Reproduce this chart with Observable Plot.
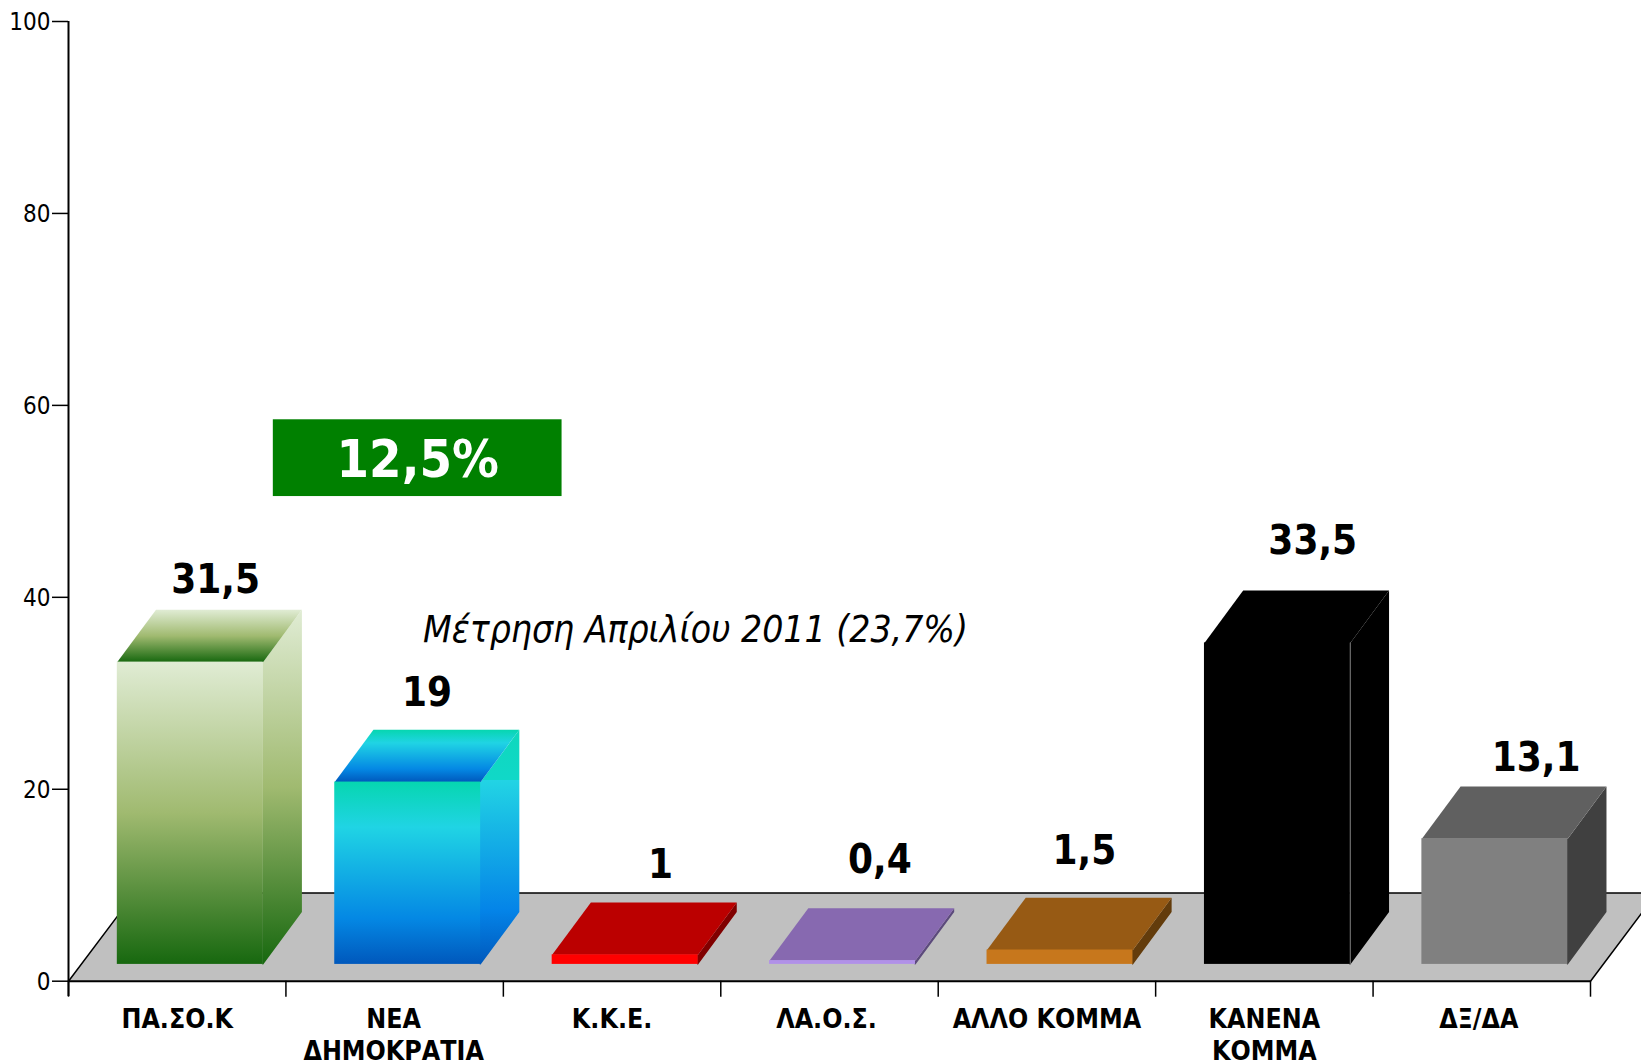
<!DOCTYPE html>
<html><head><meta charset="utf-8">
<script src="https://cdn.jsdelivr.net/npm/d3@7"></script>
<script src="https://cdn.jsdelivr.net/npm/@observablehq/plot@0.6"></script>
<style>html,body{margin:0;padding:0;background:#fff;overflow:hidden}</style>
</head><body><div id="chart"></div>
<script>
const categories = ["ΠΑ.ΣΟ.Κ","ΝΕΑ\nΔΗΜΟΚΡΑΤΙΑ","Κ.Κ.Ε.","ΛΑ.Ο.Σ.","ΑΛΛΟ ΚΟΜΜΑ","ΚΑΝΕΝΑ\nΚΟΜΜΑ","ΔΞ/ΔΑ"];
const values = [31.5,19,1,0.4,1.5,33.5,13.1];
const valueLabels = ["31,5","19","1","0,4","1,5","33,5","13,1"];
const frontColors = ["url(#g0)","url(#g1)","#ff0000","#b191e8","#c7771c","#000000","#808080"];
const topColors   = ["url(#g0)","url(#g1)","#bb0000","#8769b0","#975a14","#000000","#606060"];
const sideColors  = ["url(#g0)","url(#g1s)","#800000","#5c4a7c","#633c0c","#000000","#404040"];
const edgeColors  = ["none","none","none","none","none","#777777","none"];
const labelDx = [6,0,16,18,5,16,22];
const labelDy = [-30,-37,-37,-48,-47,-49,-28];
const yTicks = [0,20,40,60,80,100];
const xTicks = [0,1,2,3,4,5,6,7];
const catDx = [0,-1,0,-3,0,0,-3];

const base = 1.75, depthY = 5.45, depthX = 0.178, barLeft = 0.2245, barWidth = 0.671;
const floorDepthY = 9.18, floorDepthX = 0.305;
const seam = 0.004;

const poly = (pts, fill) => Plot.line(pts, {x: "0", y: "1", fill, stroke: "none"});

const defs = () => {
  const s = (id, stops) => `<linearGradient id="${id}" x1="0" y1="0" x2="0" y2="1">` +
    stops.map(([o,c]) => `<stop offset="${o}" stop-color="${c}"/>`).join("") + `</linearGradient>`;
  const g = document.createElementNS("http://www.w3.org/2000/svg","defs");
  g.innerHTML =
    s("g0", [[0,"#e0ecd4"],[0.5,"#a0ba70"],[1,"#17680f"]]) +
    s("g1", [[0,"#06d6b0"],[0.25,"#20d4e4"],[0.75,"#0488e4"],[1,"#0058bc"]]) +
    s("g1s", [[0,"#0fd8bc"],[0.215,"#10d8c8"],[0.215,"#22d4e4"],[0.77,"#0484e8"],[1,"#0058bc"]]);
  return g;
};

const barMarks = values.flatMap((v,i) => {
  const l = i + barLeft, r = l + barWidth, t = base + v;
  const mid = r + depthX/2 - barWidth/2;
  return [
    poly([[r-seam,base],[r,base],[r+depthX,base+depthY],[r+depthX,t+depthY],[r,t],[r-seam,t]], sideColors[i]),
    poly([[l,t],[r,t],[r+depthX,t+depthY],[l+depthX,t+depthY]], topColors[i]),
    Plot.rect([0], {x1:l, x2:r, y1:base, y2:t, fill:frontColors[i]}),
    Plot.ruleX([r], {y1:base, y2:t, stroke:edgeColors[i], strokeWidth:1}),
    Plot.text([valueLabels[i]], {x:mid, y:t+depthY, text:d=>d, dx:labelDx[i], dy:labelDy[i],
      fontWeight:"bold", fontSize:40, fill:"#000"}),
    Plot.text([categories[i]], {x:i+0.5, y:0, text:d=>d, dx:catDx[i], dy:24, lineAnchor:"top",
      lineHeight:1.22, fontWeight:"bold", fontSize:26.5, fill:"#000"})
  ];
});

const chart = Plot.plot({
  width:1641, height:1062,
  marginLeft:68, marginRight:51, marginTop:21, marginBottom:81.3,
  x:{domain:[0,7], axis:null},
  y:{domain:[0,100], axis:null},
  style:{fontFamily:"'DejaVu Sans Condensed','DejaVu Sans'", fontStretch:"condensed", fontSize:"24px", color:"#000", background:"#fff"},
  marks:[
    defs,
    poly([[0,0],[7,0],[7+floorDepthX,floorDepthY],[floorDepthX,floorDepthY]], "#c0c0c0"),
    Plot.line([[floorDepthX,floorDepthY],[7+floorDepthX,floorDepthY]], {x:"0",y:"1",stroke:"#000",strokeWidth:1.5}),
    Plot.line([[0,0],[floorDepthX,floorDepthY]], {x:"0",y:"1",stroke:"#000",strokeWidth:1.5}),
    Plot.line([[7,0],[7+floorDepthX,floorDepthY]], {x:"0",y:"1",stroke:"#000",strokeWidth:1.5}),
    Plot.axisY({ticks:yTicks, tickSize:16, tickFormat:()=>"", strokeWidth:1.5, label:null}),
    Plot.axisY({ticks:yTicks, tickSize:0, tickPadding:18, dy:1, label:null, fontSize:24}),
    Plot.axisX({ticks:xTicks, tickSize:16, tickFormat:()=>"", strokeWidth:1.5, label:null}),
    Plot.ruleX([0], {y1:-1.6, y2:100, stroke:"#000", strokeWidth:2}),
    Plot.ruleY([0], {x1:0, x2:7, stroke:"#000", strokeWidth:2}),
    ...barMarks,
    Plot.rect([0], {x1:0.942, x2:2.27, y1:50.5, y2:58.5, fill:"#008000"}),
    Plot.text(["12,5%"], {x:1.606, y:54.5, dy:2, text:d=>d, fill:"#fff", fontWeight:"bold", fontSize:52}),
    Plot.text(["Μέτρηση Απριλίου 2011 (23,7%)"], {x:1.63, y:36.6, text:d=>d, textAnchor:"start", fontStyle:"italic", fontSize:37, fill:"#000"})
  ]
});
document.getElementById("chart").append(chart);
</script></body></html>
